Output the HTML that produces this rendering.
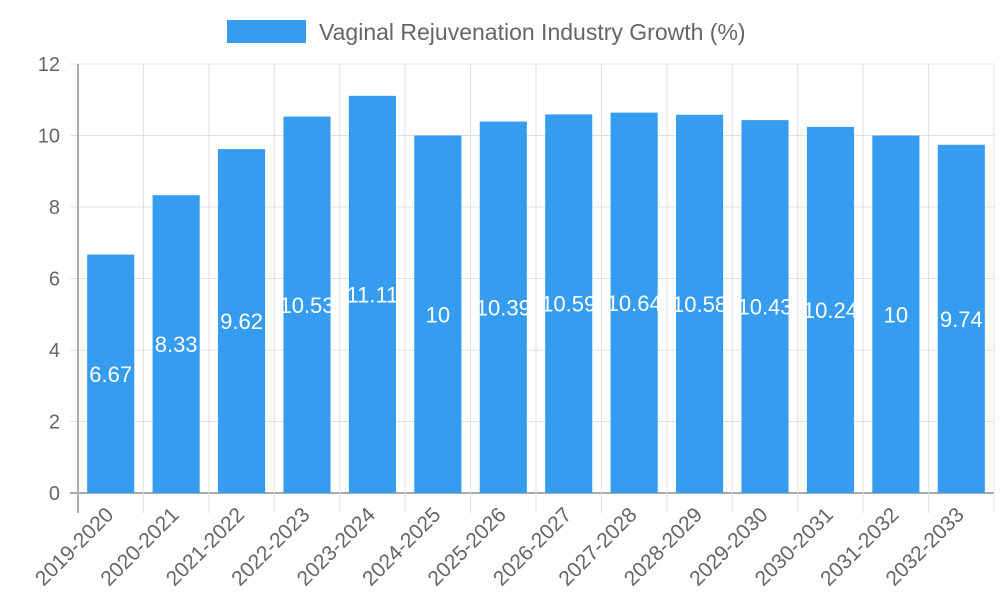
<!DOCTYPE html>
<html><head><meta charset="utf-8"><style>body{margin:0;background:#fff}svg{display:block;font-family:"Liberation Sans",sans-serif}</style></head>
<body>
<svg id="c" width="1000" height="600">
<rect x="227" y="20" width="79" height="23" fill="#369cf0"/>
<text x="319" y="40" font-size="23" fill="#666">Vaginal Rejuvenation Industry Growth (%)</text>
</svg>
<script>
const categories=["2019-2020","2020-2021","2021-2022","2022-2023","2023-2024","2024-2025","2025-2026","2026-2027","2027-2028","2028-2029","2029-2030","2030-2031","2031-2032","2032-2033"];
const values=[6.67,8.33,9.62,10.53,11.11,10,10.39,10.59,10.64,10.58,10.43,10.24,10,9.74];
const yTicks=[0,2,4,6,8,10,12];
const svg=document.getElementById('c');const NS='http://www.w3.org/2000/svg';
const L=78,R=994,T=64,B=493,yMax=12;
const y=v=>B-(v/yMax)*(B-T);
const bw=(R-L)/categories.length;
const x=i=>L+bw*i;
function mk(t,a,p){const e=document.createElementNS(NS,t);for(const k in a)e.setAttribute(k,a[k]);(p||svg).appendChild(e);return e;}
yTicks.forEach(v=>{
 const g=mk('line',{x1:70,x2:R,y1:y(v),y2:y(v),stroke:v===0?'#aaa':'#e0e0e0','stroke-width':v===0?2:1});
 
 
 const t=mk('text',{x:60,y:y(v)+7,'text-anchor':'end','font-size':20,fill:'#666'});t.textContent=v;
 
 
});
for(let i=0;i<=categories.length;i++){
 const g=mk('line',{x1:x(i),x2:x(i),y1:T,y2:513,stroke:i===0?'#aaa':'#e0e0e0','stroke-width':i===0?2:1});
 
 
}
categories.forEach((c,i)=>{
 const cx=x(i)+bw/2,w=bw*0.72;
 const r=mk('rect',{x:cx-w/2,y:y(values[i]),width:w,height:B-y(values[i]),fill:'#369cf0'});
 
 
 const v=mk('text',{x:cx,y:(y(values[i])+B)/2+8,'text-anchor':'middle','font-size':22,fill:'#fff'});v.textContent=values[i];
 
 
 const t=mk('text',{x:cx+4,y:516,'text-anchor':'end','font-size':21,fill:'#666',transform:`rotate(-45 ${cx+4} 516)`});t.textContent=c;
 
 
});
mk('line',{x1:L,x2:L,y1:T,y2:513,stroke:'#aaa','stroke-width':2});
</script>
</body></html>
